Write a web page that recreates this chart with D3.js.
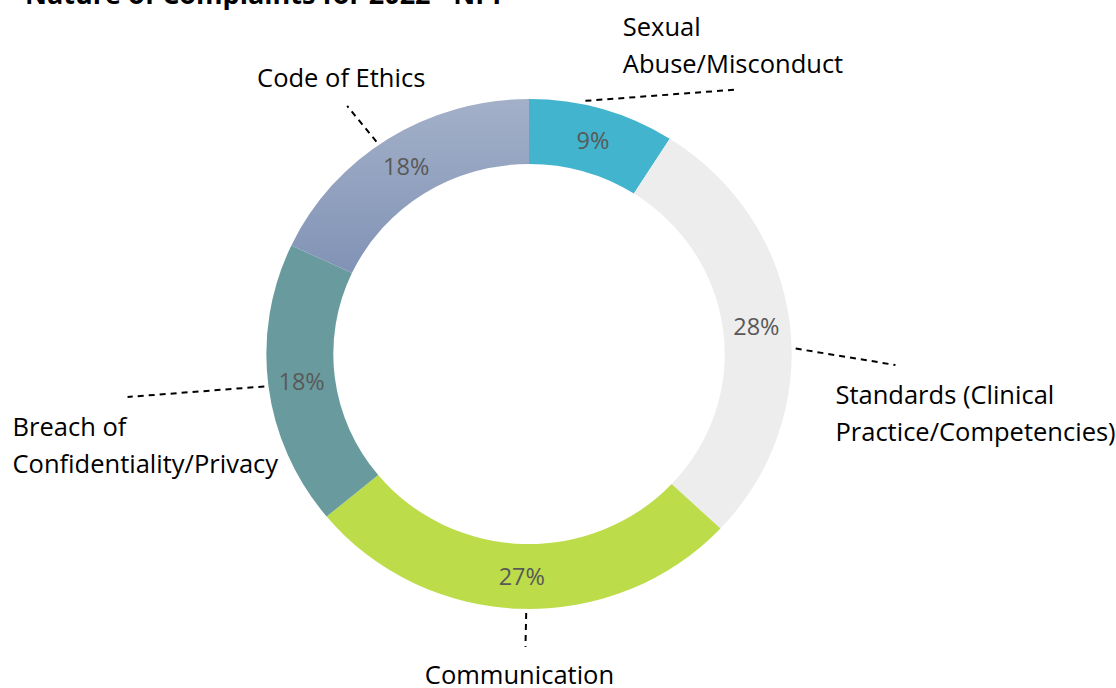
<!DOCTYPE html>
<html>
<head>
<meta charset="utf-8">
<script src="https://cdn.jsdelivr.net/npm/d3@7"></script>
<style>
  body { margin: 0; background: #fff; }
  svg { display: block; }
</style>
</head>
<body>
<svg id="chart" width="1116" height="688"></svg>
<script>
// chart data
const title = "Nature of Complaints for 2022 - NPP";
const categories = ["Sexual Abuse/Misconduct", "Standards (Clinical Practice/Competencies)", "Communication", "Breach of Confidentiality/Privacy", "Code of Ethics"];
const values = [9, 28, 27, 18, 18];
const labelLines = [["Sexual", "Abuse/Misconduct"], ["Standards (Clinical", "Practice/Competencies)"], ["Communication"], ["Breach of", "Confidentiality/Privacy"], ["Code of Ethics"]];
const colors = ["#42B4CD", "#EDEDED", "#BCDC49", "#699B9E", "url(#ethicsGrad)"];

const width = 1116, height = 688;
const cx = 529, cy = 354;
const outer = 255, inner = 190, sx = 1.03;

const svg = d3.select("#chart");

// gradient for the last slice
const grad = svg.append("defs").append("linearGradient")
    .attr("id", "ethicsGrad")
    .attr("x1", 0).attr("y1", 0).attr("x2", 0).attr("y2", 1);
grad.append("stop").attr("offset", "0%").attr("stop-color", "#A3B0C8");
grad.append("stop").attr("offset", "100%").attr("stop-color", "#8193B6");

// title (mostly cut off at the top)
svg.append("text")
    .attr("x", 25).attr("y", 4)
    .style("font-family", "'Open Sans', sans-serif")
    .style("font-size", "27px")
    .style("font-weight", "bold")
    .style("fill", "#000")
    .text(title);

const pie = d3.pie().sort(null).value(d => d);
const arcs = pie(values);
const arc = d3.arc().innerRadius(inner).outerRadius(outer);

const g = svg.append("g").attr("transform", `translate(${cx},${cy})`);

g.append("g").attr("transform", `scale(${sx},1)`)
  .selectAll("path")
  .data(arcs)
  .enter()
  .append("path")
    .attr("d", arc)
    .attr("fill", (d, i) => colors[i]);

// percent labels in the ring
const mid = (inner + outer) / 2;
function polar(a, r) {
    return [sx * r * Math.sin(a), -r * Math.cos(a)];
}
g.selectAll("text.pct")
  .data(arcs)
  .enter()
  .append("text")
    .attr("class", "pct")
    .attr("x", d => polar((d.startAngle + d.endAngle) / 2, mid)[0])
    .attr("y", d => polar((d.startAngle + d.endAngle) / 2, mid)[1])
    .attr("dy", "0.36em")
    .attr("text-anchor", "middle")
    .style("font-family", "'Open Sans', sans-serif")
    .style("font-size", "23.5px")
    .style("fill", "#595959")
    .text(d => d.data + "%");

// callout placement: start angle shift (deg), nudge of leader end from the radial anchor,
// text offset from leader end
const callout = [
    {sa: -4,   nx: 121, ny: 19,  anchor: "start",  tx: -112, ty: -54},
    {sa: 6,    nx: 65,  ny: 48,  anchor: "start",  tx: -60,  ty: 39},
    {sa: -1.2, nx: 6,   ny: -2,  anchor: "middle", tx: -6,   ty: 37},
    {sa: 0,    nx: -100, ny: 6,  anchor: "start",  tx: -115, ty: 39},
    {sa: -2.5, nx: -19, ny: 1,   anchor: "middle", tx: -6,   ty: -19}
];
const lineH = 37;

arcs.forEach((d, i) => {
    const a = (d.startAngle + d.endAngle) / 2;
    const c = callout[i];
    const s = polar(a + c.sa * Math.PI / 180, outer + 4);
    const p = polar(a, outer + 40);
    const e = [p[0] + c.nx, p[1] + c.ny];

    g.append("line")
        .attr("x1", s[0]).attr("y1", s[1])
        .attr("x2", e[0]).attr("y2", e[1])
        .attr("stroke", "#000")
        .attr("stroke-width", 2)
        .attr("stroke-dasharray", "6,5");

    const t = g.append("text")
        .attr("text-anchor", c.anchor)
        .style("font-family", "'Open Sans', sans-serif")
        .style("font-size", "25.5px")
        .style("fill", "#000");
    labelLines[i].forEach((ln, j) => {
        t.append("tspan")
            .attr("x", e[0] + c.tx)
            .attr("y", e[1] + c.ty + j * lineH)
            .text(ln);
    });
});
</script>
</body>
</html>
